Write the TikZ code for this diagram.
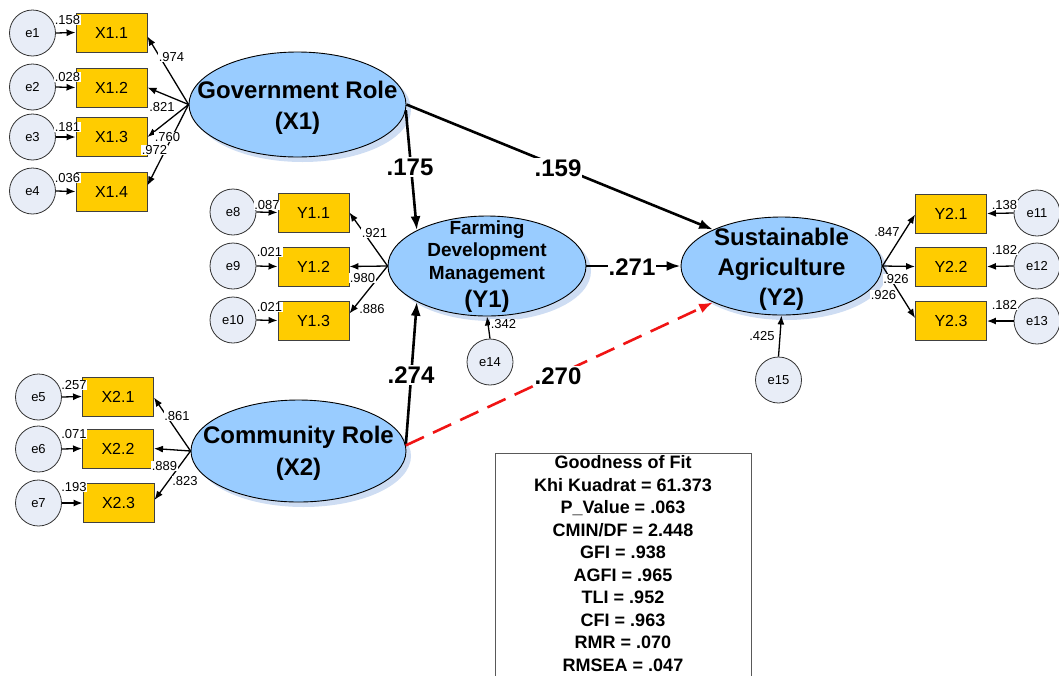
\documentclass[tikz,border=0pt]{standalone}
\usepackage{fontspec}
\setmainfont{Liberation Sans}
\usetikzlibrary{arrows.meta,shapes.geometric}
\definecolor{latfill}{RGB}{153,204,255}
\definecolor{latshadow}{RGB}{206,221,243}
\definecolor{obsfill}{RGB}{255,204,0}
\definecolor{errfill}{RGB}{232,237,247}
\definecolor{dashred}{RGB}{240,20,20}
\begin{document}
\begin{tikzpicture}[x=1pt,y=-1pt,
  latent/.style={ellipse, draw=black, line width=0.9pt, fill=latfill, inner sep=0pt},
  latshade/.style={ellipse, fill=latshadow, inner sep=0pt},
  obs/.style={rectangle, draw=black!75, line width=0.9pt, fill=obsfill, minimum width=71pt, minimum height=39pt, inner sep=0pt, font=\fontsize{16}{18}\selectfont},
  err/.style={circle, draw=black!80, line width=0.8pt, fill=errfill, minimum size=46pt, inner sep=0pt, font=\fontsize{13}{15}\selectfont},
  meas/.style={-{Latex[length=9pt,width=7pt]}, line width=1.3pt},
  struct/.style={-{Latex[length=14pt,width=10pt]}, line width=2.6pt},
  coef/.style={font=\fontsize{13}{15}\selectfont, fill=white, inner sep=0.6pt, text height=9.4pt, text depth=0pt},
  pathlbl/.style={font=\bfseries\fontsize{24}{28}\selectfont, fill=white, inner sep=1pt, text height=17.2pt, text depth=0pt},
  lattext/.style={font=\bfseries\fontsize{24}{28}\selectfont, inner sep=0pt, text height=17.2pt, text depth=0pt},
  smalllat/.style={font=\bfseries\fontsize{19}{22}\selectfont, inner sep=0pt, text height=13.6pt, text depth=0pt},
  gofline/.style={font=\bfseries\fontsize{18}{20}\selectfont, inner sep=0pt, text height=12.9pt, text depth=0pt}
]
\useasboundingbox (0,0) rectangle (1059,675);

% shadows of latent variables
\node[latshade, minimum width=217pt, minimum height=105pt] (govs) at (302.5,109.5) {};
\node[latshade, minimum width=198pt, minimum height=100pt] (fdms) at (492,271) {};
\node[latshade, minimum width=215pt, minimum height=102pt] (comms) at (303.5,456) {};
\node[latshade, minimum width=201pt, minimum height=98pt] (sas) at (786.5,271) {};

% latent variables
\node[latent, minimum width=217pt, minimum height=105pt] (gov) at (297.5,104.5) {};
\node[latent, minimum width=198pt, minimum height=100pt] (fdm) at (487,266) {};
\node[latent, minimum width=215pt, minimum height=102pt] (comm) at (298.5,451) {};
\node[latent, minimum width=201pt, minimum height=98pt] (sa) at (781.5,266) {};

% observed indicators
\node[obs] (x11) at (111.5,32.5) {X1.1};
\node[obs] (x12) at (111.5,87.5) {X1.2};
\node[obs] (x13) at (111.5,137) {X1.3};
\node[obs] (x14) at (111.5,191.5) {X1.4};
\node[obs] (y11) at (313.5,212.5) {Y1.1};
\node[obs] (y12) at (313.5,266.5) {Y1.2};
\node[obs] (y13) at (313.5,320.5) {Y1.3};
\node[obs] (x21) at (118,396.5) {X2.1};
\node[obs] (x22) at (118,448.5) {X2.2};
\node[obs] (x23) at (118.5,503) {X2.3};
\node[obs] (y21) at (951,213.5) {Y2.1};
\node[obs] (y22) at (951,266.5) {Y2.2};
\node[obs] (y23) at (951,321) {Y2.3};

% error terms
\node[err] (e1) at (32.5,33) {e1};
\node[err] (e2) at (32.5,87) {e2};
\node[err] (e3) at (32.5,137) {e3};
\node[err] (e4) at (32.5,191) {e4};
\node[err] (e8) at (233,212) {e8};
\node[err] (e9) at (233,266) {e9};
\node[err] (e10) at (233,320) {e10};
\node[err] (e5) at (38.5,397) {e5};
\node[err] (e6) at (38.5,449) {e6};
\node[err] (e7) at (38.5,503) {e7};
\node[err] (e11) at (1037,213) {e11};
\node[err] (e12) at (1037,266) {e12};
\node[err] (e13) at (1037,321) {e13};
\node[err] (e14) at (490,362) {e14};
\node[err] (e15) at (778.5,380) {e15};

% error arrows
\foreach \e/\b in {e1/x11,e2/x12,e3/x13,e4/x14,e8/y11,e9/y12,e10/y13,e5/x21,e6/x22,e7/x23}
  \draw[meas] (\e.east) -- (\b.west);
\foreach \e/\b in {e11/y21,e12/y22,e13/y23}
  \draw[meas] (\e.west) -- (\b.east);
\draw[meas] (e14.north) -- (fdm.south);
\draw[meas] (e15.north) -- (sa.south);

% measurement arrows
\draw[meas] (gov.west) -- ([yshift=-4pt]x11.east);
\draw[meas] (gov.west) -- (x12.east);
\draw[meas] (gov.west) -- (x13.east);
\draw[meas] (gov.west) -- ([yshift=6pt]x14.east);
\draw[meas] (fdm.west) -- (y11.east);
\draw[meas] (fdm.west) -- (y12.east);
\draw[meas] (fdm.west) -- ([yshift=7pt]y13.east);
\draw[meas] (comm.west) -- ([yshift=-1pt]x21.east);
\draw[meas] (comm.west) -- (x22.east);
\draw[meas] (comm.west) -- ([yshift=3pt]x23.east);
\draw[meas] (sa.east) -- ([yshift=-1pt]y21.west);
\draw[meas] (sa.east) -- (y22.west);
\draw[meas] (sa.east) -- ([yshift=3pt]y23.west);

% structural paths
\draw[struct] (gov.-3) -- (fdm.153);
\draw[struct] (gov.east) -- (sa.152);
\draw[struct] (comm.3) -- (fdm.207);
\draw[struct] (fdm.east) -- (sa.west);
\draw[struct, dashred, dash pattern=on 20pt off 10pt] (comm.3) -- (sa.208);

% coefficient labels (error terms)
\node[coef] (c1) at (67.5,20) {.158};
\node[coef] (c2) at (67.5,77) {.028};
\node[coef] (c3) at (67.5,127) {.181};
\node[coef] (c4) at (67.5,178) {.036};
\node[coef] (c8) at (267,205) {.087};
\node[coef] (c9) at (269.5,252) {.021};
\node[coef] (c10) at (269.5,307) {.021};
\node[coef] (c5) at (74,385) {.257};
\node[coef] (c6) at (74,434) {.071};
\node[coef] (c7) at (74,487) {.193};
\node[coef] (c11) at (1004.5,205) {.138};
\node[coef] (c12) at (1004.5,250) {.182};
\node[coef] (c13) at (1004.5,305) {.182};
\node[coef] (c14) at (503.5,324) {.342};
\node[coef] (c15) at (762,336) {.425};

% coefficient labels (loadings)
\node[coef] (l11) at (171.5,57) {.974};
\node[coef] (l12) at (162,107) {.821};
\node[coef] (l13) at (167.5,137) {.760};
\node[coef] (l14) at (154.5,150) {.972};
\node[coef] (m11) at (374.5,233) {.921};
\node[coef] (m12) at (362.5,278) {.980};
\node[coef] (m13) at (372,309) {.886};
\node[coef] (l21) at (177,416) {.861};
\node[coef] (l22) at (164.5,466) {.889};
\node[coef] (l23) at (185,481) {.823};
\node[coef] (m21) at (887,232) {.847};
\node[coef] (m22) at (896,279) {.926};
\node[coef] (m23) at (883.5,295) {.926};

% path coefficients
\node[pathlbl] (p1) at (410,167) {.175};
\node[pathlbl] (p2) at (558,168) {.159};
\node[pathlbl] (p3) at (411,375) {.274};
\node[pathlbl] (p4) at (558,376) {.270};
\node[pathlbl] (p5) at (632,267) {.271};

% latent texts
\node[lattext] (govt1) at (297.5,90) {Government Role};
\node[lattext] (govt2) at (297.5,121) {(X1)};
\node[smalllat] (fdmt1) at (487,228) {Farming};
\node[smalllat] (fdmt2) at (487,250) {Development};
\node[smalllat] (fdmt3) at (487,273) {Management};
\node[lattext] (fdmt4) at (487,299) {(Y1)};
\node[lattext] (commt1) at (298.5,435) {Community Role};
\node[lattext] (commt2) at (298.5,467) {(X2)};
\node[lattext] (sat1) at (781.5,237) {Sustainable};
\node[lattext] (sat2) at (781.5,267) {Agriculture};
\node[lattext] (sat3) at (781.5,297) {(Y2)};

% goodness of fit
\node[draw=black!65, line width=1.2pt, anchor=north west, minimum width=256pt, minimum height=240pt, inner sep=0pt] (gof) at (495,452.5) {};
\foreach \t [count=\k from 0] in {Goodness of Fit, Khi Kuadrat = 61.373, P\_Value = .063, CMIN/DF = 2.448, GFI = .938, AGFI = .965, TLI = .952, CFI = .963, RMR = .070, RMSEA = .047}
  \node[gofline] (gof\k) at (623,462.5+22.5*\k) {\t};
\end{tikzpicture}
\end{document}
